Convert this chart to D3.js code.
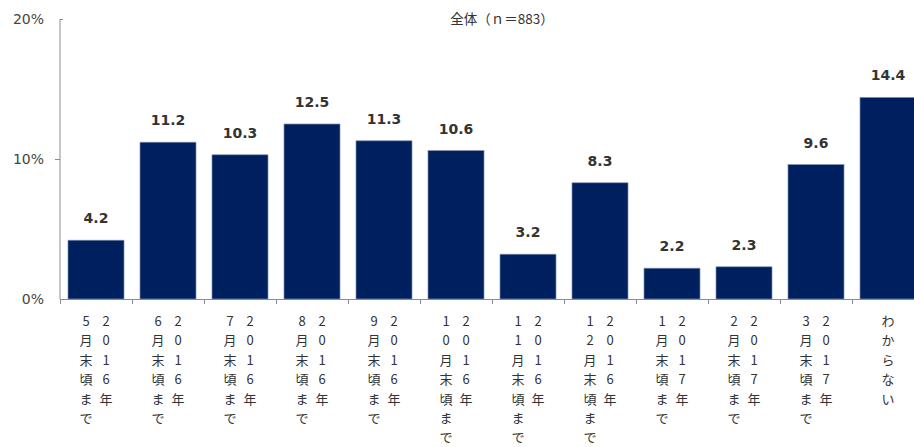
<!DOCTYPE html>
<html>
<head>
<meta charset="utf-8">
<script src="https://cdn.jsdelivr.net/npm/d3@7"></script>
<style>
  html, body { margin: 0; padding: 0; background: #fff; }
  svg { display: block; }
</style>
</head>
<body>
<svg id="chart" width="914" height="447"></svg>
<script>
// ---- data ----
const title = "全体（ｎ＝883）";
const categories = [
  "2016年5月末頃まで", "2016年6月末頃まで", "2016年7月末頃まで", "2016年8月末頃まで",
  "2016年9月末頃まで", "2016年10月末頃まで", "2016年11月末頃まで", "2016年12月末頃まで",
  "2017年1月末頃まで", "2017年2月末頃まで", "2017年3月末頃まで", "わからない"
];
const values = [4.2, 11.2, 10.3, 12.5, 11.3, 10.6, 3.2, 8.3, 2.2, 2.3, 9.6, 14.4];
const yTicks = [0, 10, 20];

// ---- layout ----
const svg = d3.select("#chart");
const x0 = 60, x1 = 924, yBottom = 299, yTop = 19;

const x = d3.scaleBand().domain(categories).range([x0, x1]).paddingInner(0.222).paddingOuter(0.111);
const y = d3.scaleLinear().domain([0, 20]).range([yBottom, yTop]);

const axisColor = "#8c8c8c";

// bars
svg.append("g").selectAll("rect").data(values).join("rect")
  .attr("x", (d, i) => x(categories[i]))
  .attr("y", d => y(d))
  .attr("width", x.bandwidth())
  .attr("height", d => y(0) - y(d))
  .attr("fill", "#001f5e")
  .attr("stroke", "#7f8fb0")
  .attr("stroke-width", 0.7);

// value labels
svg.append("g").selectAll("text").data(values).join("text")
  .attr("x", (d, i) => x(categories[i]) + x.bandwidth() / 2)
  .attr("y", d => y(d) - 17)
  .attr("text-anchor", "middle")
  .attr("font-family", "DejaVu Sans, Verdana, sans-serif")
  .attr("font-weight", "bold")
  .attr("font-size", 14)
  .attr("fill", "#333")
  .text(d => d.toFixed(1));

// y axis
const yAxis = d3.axisLeft(y).tickValues(yTicks).tickSize(5).tickFormat(d => d + "%");
const gy = svg.append("g").attr("transform", `translate(${x0},0)`).call(yAxis);
gy.select(".domain").attr("stroke", axisColor).attr("d", `M0,${yTop}V${yBottom}`);
gy.selectAll(".tick line").attr("stroke", axisColor).attr("x2", d => d === 20 ? 3 : (d === 0 ? 0 : -5));
gy.selectAll(".tick text")
  .attr("x", -16)
  .attr("font-family", "DejaVu Sans, Verdana, sans-serif")
  .attr("font-size", 14)
  .attr("fill", "#444");

// x axis line + boundary ticks
const gx = svg.append("g");
gx.append("line").attr("x1", x0).attr("x2", x1).attr("y1", yBottom + 0.5).attr("y2", yBottom + 0.5)
  .attr("stroke", axisColor).attr("stroke-width", 1.2);
const step = x.step();
const bounds = d3.range(categories.length + 1).map(i => x0 + i * step);
gx.selectAll("line.tk").data(bounds).join("line").attr("class", "tk")
  .attr("x1", d => Math.round(d) + 0.5).attr("x2", d => Math.round(d) + 0.5)
  .attr("y1", yBottom).attr("y2", yBottom + 5)
  .attr("stroke", axisColor);

// vertical category labels (columns right to left)
const lab = svg.append("g")
  .attr("font-family", "'Noto Sans CJK JP', sans-serif")
  .attr("font-size", 13)
  .attr("fill", "#333");
const rowH = 19.4, firstRow = 326;
categories.forEach(cat => {
  const cx = x(cat) + x.bandwidth() / 2;
  const idx = cat.indexOf("年");
  let cols;
  if (idx >= 0) cols = [{ s: cat.slice(0, idx + 1), dx: 10 }, { s: cat.slice(idx + 1), dx: -10 }];
  else cols = [{ s: cat, dx: 0 }];
  cols.forEach(c => {
    Array.from(c.s).forEach((ch, j) => {
      lab.append("text")
        .attr("x", cx + c.dx)
        .attr("y", firstRow + j * rowH)
        .attr("text-anchor", "middle")
        .text(ch);
    });
  });
});

// title
svg.append("text")
  .attr("x", 502).attr("y", 24)
  .attr("text-anchor", "middle")
  .attr("font-family", "'Noto Sans CJK JP', sans-serif")
  .attr("font-size", 13.5)
  .attr("fill", "#333")
  .text(title);
</script>
</body>
</html>
